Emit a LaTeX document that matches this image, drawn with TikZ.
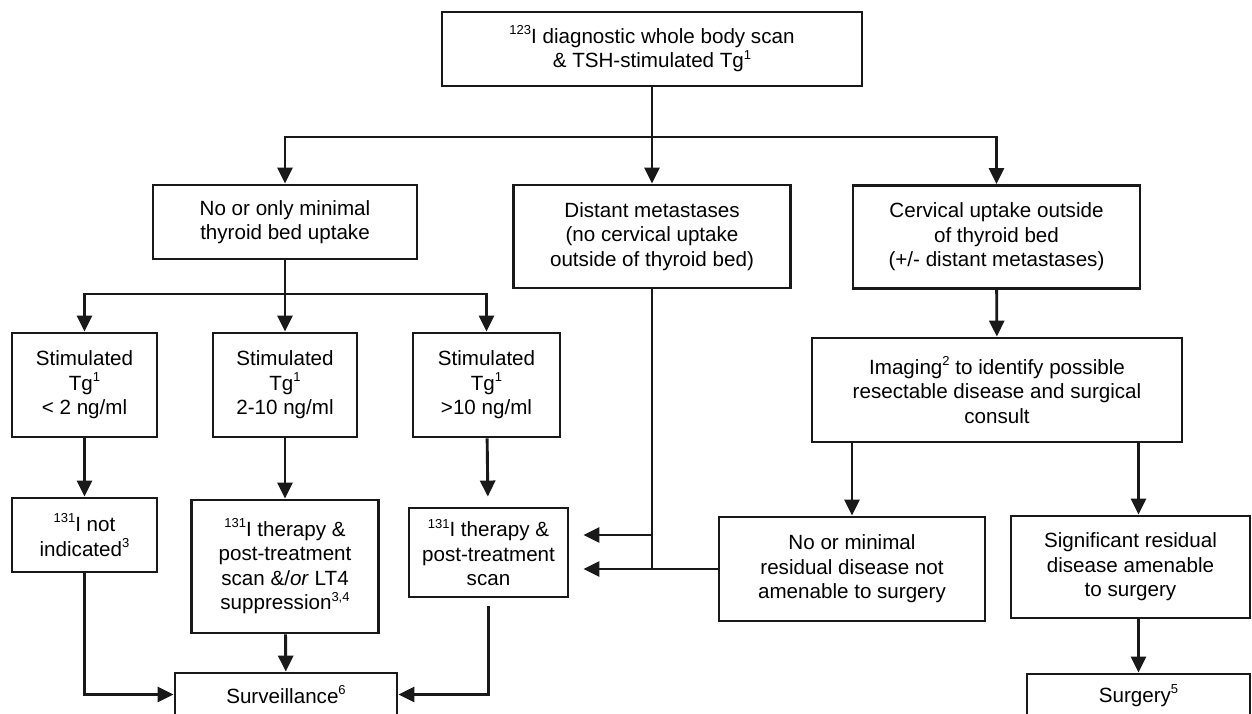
\documentclass[tikz,border=0pt]{standalone}
\usepackage{fontspec}
\setmainfont{Liberation Sans}
\usetikzlibrary{arrows.meta}
\newcommand{\sups}[1]{\raisebox{0.42em}{\fontsize{13}{12}\selectfont #1}}
\tikzset{
  box/.style={draw=black!90, line width=2.9pt, inner sep=0pt, align=center,
    font=\fontsize{20.6}{24.5}\selectfont},
  conn/.style={line width=2.9pt, draw=black!90},
  arr/.style={conn, -{Triangle[length=16pt,width=15pt]}},
}
\begin{document}
\begin{tikzpicture}[x=1pt,y=-1pt]
\clip (0,0) rectangle (1252,713);
\fill[white] (0,0) rectangle (1252,713);
% nodes
\node[box, minimum width=420pt, minimum height=74pt] (top) at (652,49)
  {\sups{123}I diagnostic whole body scan\\\& TSH-stimulated Tg\sups{1}};
\node[box, minimum width=264pt, minimum height=74pt] (b1) at (285,222)
  {No or only minimal\\thyroid bed uptake};
\node[box, minimum width=277pt, minimum height=103pt] (b2) at (652,236.5)
  {Distant metastases\\(no cervical uptake\\outside of thyroid bed)};
\node[box, minimum width=287pt, minimum height=103pt] (b3) at (996.5,237)
  {Cervical uptake outside\\of thyroid bed\\(+/- distant metastases)};
\node[box, minimum width=370pt, minimum height=104pt] (img) at (997,390)
  {Imaging\sups{2} to identify possible\\resectable disease and surgical\\consult};
\node[box, minimum width=145pt, minimum height=104pt] (s1) at (84.5,385)
  {Stimulated\\Tg\sups{1}\\< 2 ng/ml};
\node[box, minimum width=144pt, minimum height=104pt] (s2) at (285,385)
  {Stimulated\\Tg\sups{1}\\2-10 ng/ml};
\node[box, minimum width=147pt, minimum height=104pt] (s3) at (486.5,385)
  {Stimulated\\Tg\sups{1}\\>10 ng/ml};
\node[box, minimum width=145pt, minimum height=74pt] (n1) at (84.5,535)
  {\sups{131}I not\\indicated\sups{3}};
\node[box, minimum width=187pt, minimum height=133pt] (t2) at (285,566.5)
  {\sups{131}I therapy \&\\post-treatment\\scan \&/\textit{or} LT4\\suppression\sups{3,4}};
\node[box, minimum width=159pt, minimum height=89pt] (t3) at (488.5,552.5)
  {\sups{131}I therapy \&\\post-treatment\\scan};
\node[box, minimum width=266pt, minimum height=104pt] (res) at (852,569)
  {No or minimal\\residual disease not\\amenable to surgery};
\node[box, minimum width=239pt, minimum height=102pt] (sig) at (1130.5,567)
  {Significant residual\\disease amenable\\to surgery};
\node[box, minimum width=222pt, minimum height=43pt] (surv) at (286,694.5)
  {Surveillance\sups{6}};
\node[box, minimum width=223pt, minimum height=43pt] (surg) at (1138.5,695.5)
  {Surgery\sups{5}};
% connectors
\coordinate (bus1) at (652,137);
\draw[conn] (top) -- (bus1);
\draw[arr] (bus1) -| (b1);
\draw[arr] (bus1) -- (b2);
\draw[arr] (bus1) -| (b3);
\coordinate (bus2) at (285,294);
\draw[conn] (b1) -- (bus2);
\draw[arr] (bus2) -| (s1);
\draw[arr] (bus2) -- (s2);
\draw[arr] (bus2) -| (s3);
\draw[arr] (s1) -- (n1);
\draw[arr] (s2) -- (t2);
\draw[arr, shorten >=10pt] (s3) -- (t3);
\draw[arr] (n1) |- (surv);
\draw[arr] (t2) -- (surv);
\draw[arr, shorten <=8pt] (t3) |- (surv);
\coordinate (j1) at (652,535);
\coordinate (j2) at (652,569);
\draw[conn] (b2) -- (j2);
\draw[arr, shorten >=14pt] (j1) -- (j1 -| t3.east);
\draw[arr, shorten >=14pt] (res) -- (res.west -| t3.east);
\draw[arr] (b3) -- (img);
\draw[arr] (img.south -| res.north) -- (res.north);
\draw[arr] (img.south -| surg.north) -- (sig.north -| surg.north);
\draw[arr] (sig.south -| surg.north) -- (surg.north);
\end{tikzpicture}
\end{document}
